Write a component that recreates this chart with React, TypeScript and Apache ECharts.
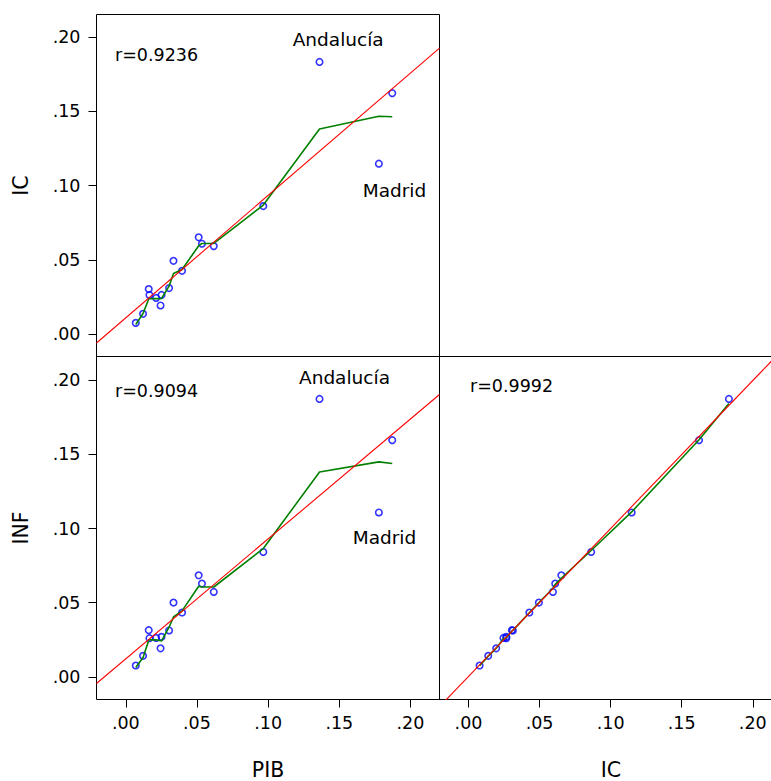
import React, { useEffect, useRef } from "react";
import * as echarts from "echarts";

// Regional shares (17 comunidades), ordered by PIB
const PIB = [0.0070, 0.0121, 0.0161, 0.0166, 0.0213, 0.0244, 0.0251, 0.0304, 0.0335, 0.0395, 0.0512, 0.0535, 0.0618, 0.0966, 0.1361, 0.1778, 0.1872];
const IC = [0.0078, 0.0139, 0.0305, 0.0266, 0.0246, 0.0195, 0.0266, 0.0312, 0.0495, 0.0428, 0.0653, 0.0610, 0.0594, 0.0863, 0.1832, 0.1148, 0.1622];
const INF = [0.0077, 0.0142, 0.0315, 0.0261, 0.0263, 0.0193, 0.0270, 0.0313, 0.0501, 0.0434, 0.0685, 0.0629, 0.0573, 0.0842, 0.1873, 0.1108, 0.1595];

// Nearest-neighbour (green) fitted values, same order as the data
const IC_FIT_ON_PIB = [0.0067, 0.0141, 0.0238, 0.0240, 0.0241, 0.0240, 0.0242, 0.0325, 0.0410, 0.0437, 0.0596, 0.0612, 0.0612, 0.0870, 0.1381, 0.1467, 0.1464];
const INF_FIT_ON_PIB = [0.0063, 0.0131, 0.0247, 0.0250, 0.0250, 0.0244, 0.0243, 0.0335, 0.0404, 0.0445, 0.0611, 0.0606, 0.0606, 0.0865, 0.1381, 0.1449, 0.1438];
const INF_FIT_ON_IC = [0.0076, 0.0140, 0.0310, 0.0264, 0.0258, 0.0194, 0.0266, 0.0314, 0.0500, 0.0432, 0.0665, 0.0624, 0.0598, 0.0852, 0.1843, 0.1112, 0.1598];

const TICKS = [0, 0.05, 0.1, 0.15, 0.2];
const R_LABELS = ["r=0.9236", "r=0.9094", "r=0.9992"];
const NAMES = ["PIB", "IC", "INF"];

const PIB_RANGE = [-0.0206, 0.2204];
const IC_Y_RANGE = [-0.0148, 0.2151];
const INF_RANGE = [-0.0152, 0.2159];
const IC_X_RANGE = [-0.0204, 0.2209];

const FONT = "DejaVu Sans";

function ols(x: number[], y: number[]) {
  const n = x.length;
  const mx = x.reduce((s, v) => s + v, 0) / n;
  const my = y.reduce((s, v) => s + v, 0) / n;
  let sxy = 0, sxx = 0;
  for (let i = 0; i < n; i++) {
    sxy += (x[i] - mx) * (y[i] - my);
    sxx += (x[i] - mx) * (x[i] - mx);
  }
  const b = sxy / sxx;
  return [my - b * mx, b];
}
function regLine(x: number[], y: number[], range: number[]) {
  const [a, b] = ols(x, y);
  return range.map((v) => [v, a + b * v]);
}
function fitLine(x: number[], fit: number[]) {
  return x.map((v, i) => [v, fit[i]]).sort((p, q) => p[0] - q[0]);
}
const fmt = (v: number) => {
  const s = v.toFixed(2);
  return s.startsWith("0") ? s.slice(1) : s;
};

function axis(gridIndex: number, range: number[], show: boolean, name: string, isX: boolean) {
  return {
    type: "value",
    gridIndex,
    min: range[0],
    max: range[1],
    show,
    name,
    nameLocation: "middle",
    nameGap: isX ? 60 : 65,
    nameTextStyle: { color: "#000", fontSize: 20.5, fontFamily: FONT },
    axisLine: { show: false, onZero: false },
    splitLine: { show: false },
    axisTick: { show, length: 8, lineStyle: { color: "#000", width: 1 }, customValues: TICKS },
    axisLabel: {
      show,
      customValues: TICKS,
      formatter: fmt,
      margin: isX ? 14.5 : 16,
      color: "#000",
      fontSize: 17.5,
      fontFamily: FONT,
    },
  };
}

function scatter(xi: number, x: number[], y: number[]) {
  return {
    type: "scatter",
    xAxisIndex: xi,
    yAxisIndex: xi,
    data: x.map((v, i) => [v, y[i]]),
    symbol: "circle",
    symbolSize: 6.5,
    itemStyle: { color: "rgba(0,0,0,0)", borderColor: "#0000ff", borderWidth: 1.6 },
    z: 2,
    silent: true,
  };
}
function line(xi: number, data: number[][], color: string, width: number, z: number) {
  return {
    type: "line",
    xAxisIndex: xi,
    yAxisIndex: xi,
    data,
    showSymbol: false,
    symbol: "none",
    lineStyle: { color, width },
    z,
    silent: true,
    clip: true,
  };
}

function txt(text: string, x: number, y: number, size: number) {
  return {
    type: "text",
    x,
    y,
    silent: true,
    style: { text, fill: "#000", fontSize: size, fontFamily: FONT, align: "left", verticalAlign: "middle" },
  };
}

export default function App() {
  const ref = useRef<HTMLDivElement>(null);
  useEffect(() => {
    document.body.style.margin = "0";
    document.body.style.overflow = "hidden";
    const chart = echarts.init(ref.current!, null, { renderer: "svg" });
    const gridStyle = {
      show: true,
      borderColor: "#000",
      borderWidth: 1,
      backgroundColor: "transparent",
      containLabel: false,
      outerBoundsMode: "none",
    };
    chart.setOption({
      animation: false,
      backgroundColor: "#fff",
      grid: [
        { left: 96.5, top: 14.5, width: 343, height: 342, ...gridStyle },
        { left: 96.5, top: 356.5, width: 343, height: 343, ...gridStyle },
        { left: 439.5, top: 356.5, width: 343, height: 343, ...gridStyle },
      ],
      xAxis: [
        axis(0, PIB_RANGE, false, "", true),
        axis(1, PIB_RANGE, true, NAMES[0], true),
        axis(2, IC_X_RANGE, true, NAMES[1], true),
      ],
      yAxis: [
        axis(0, IC_Y_RANGE, true, NAMES[1], false),
        axis(1, INF_RANGE, true, NAMES[2], false),
        axis(2, INF_RANGE, false, "", false),
      ],
      series: [
        scatter(0, PIB, IC),
        line(0, fitLine(PIB, IC_FIT_ON_PIB), "#008000", 1.6, 3),
        line(0, regLine(PIB, IC, PIB_RANGE), "#ff0000", 1.1, 4),
        scatter(1, PIB, INF),
        line(1, fitLine(PIB, INF_FIT_ON_PIB), "#008000", 1.6, 3),
        line(1, regLine(PIB, INF, PIB_RANGE), "#ff0000", 1.1, 4),
        scatter(2, IC, INF),
        line(2, fitLine(IC, INF_FIT_ON_IC), "#008000", 1.6, 3),
        line(2, regLine(IC, INF, IC_X_RANGE), "#ff0000", 1.1, 4),
      ],
      graphic: [
        txt(R_LABELS[0], 115, 54.7, 17.5),
        txt("Andalucía", 292.7, 39, 18.5),
        txt("Madrid", 362.7, 190, 18.5),
        txt(R_LABELS[1], 115, 391, 17.5),
        txt("Andalucía", 299, 377.3, 18.5),
        txt("Madrid", 352.7, 537.3, 18.5),
        txt(R_LABELS[2], 470, 386.4, 17.5),
      ],
    });
    return () => chart.dispose();
  }, []);
  return <div ref={ref} style={{ width: 771, height: 781 }} />;
}
